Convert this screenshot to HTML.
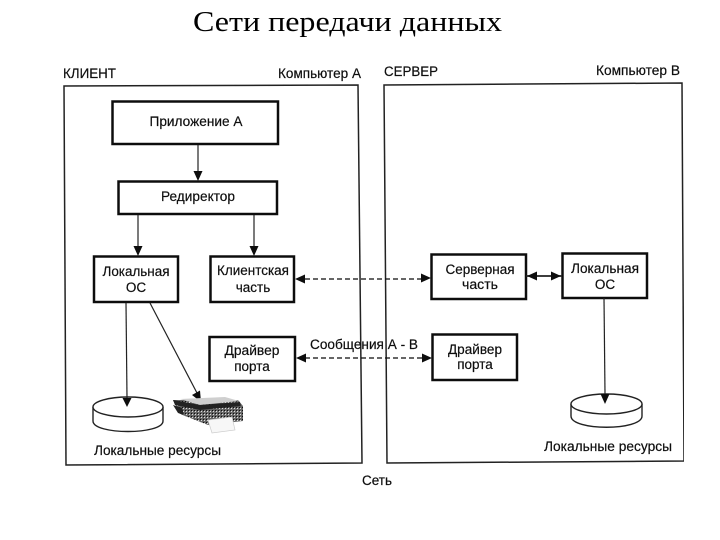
<!DOCTYPE html>
<html lang="ru">
<head>
<meta charset="utf-8">
<title>Сети передачи данных</title>
<style>
html,body{margin:0;padding:0;background:#fff}
svg{display:block}
text{font-family:"Liberation Sans",sans-serif;font-size:13.5px;fill:#111;stroke:#111;stroke-width:.2;text-anchor:middle}
.l{text-anchor:start}
.t{font-family:"Liberation Serif",serif;font-size:28px;fill:#000;stroke:none;text-anchor:start}
.box{fill:#fff;stroke:#111;stroke-width:2.5}
.frame{fill:none;stroke:#222;stroke-width:1.5}
.ln{fill:none;stroke:#222;stroke-width:1.2}
.d{fill:none;stroke:#111;stroke-width:1.3;stroke-dasharray:5 3}
.ah{fill:#111;stroke:none}
.disk{fill:#fff;stroke:#222;stroke-width:1.4}
</style>
</head>
<body>
<svg width="720" height="540" viewBox="0 0 720 540" xmlns="http://www.w3.org/2000/svg">
<defs>
<pattern id="dots" width="3" height="3" patternUnits="userSpaceOnUse">
<rect width="3" height="3" fill="#666"/>
<rect width="1" height="1" fill="#ddd"/>
<rect x="2" y="2" width="1" height="1" fill="#111"/>
</pattern>
<filter id="soft" x="0" y="0" width="100%" height="100%"><feGaussianBlur stdDeviation="0.35"/></filter>
</defs>

<text class="t" x="193" y="31" textLength="309" lengthAdjust="spacingAndGlyphs">Сети передачи данных</text>

<g filter="url(#soft)">
<polygon class="frame" points="64,86 358,85 362,463 66,465"/>
<polygon class="frame" points="384,85 682,83 684,461 387,463"/>

<text class="l" x="63" y="78" textLength="53" lengthAdjust="spacingAndGlyphs">КЛИЕНТ</text>
<text class="l" x="278" y="78" textLength="83" lengthAdjust="spacingAndGlyphs">Компьютер А</text>
<text class="l" x="384" y="76" textLength="54" lengthAdjust="spacingAndGlyphs">СЕРВЕР</text>
<text class="l" x="596" y="75" textLength="84" lengthAdjust="spacingAndGlyphs">Компьютер В</text>

<rect class="box" x="112.500" y="101.500" width="165.500" height="42.500"/>
<rect class="box" x="118.500" y="181.500" width="158.500" height="32.500"/>
<rect class="box" x="94" y="256.500" width="84" height="45.500"/>
<rect class="box" x="210.500" y="256.500" width="83.500" height="45.500"/>
<rect class="box" x="209.500" y="337" width="85.500" height="44"/>
<rect class="box" x="431.500" y="254.500" width="94.500" height="44.500"/>
<rect class="box" x="562.500" y="253.500" width="84.500" height="44.500"/>
<rect class="box" x="432.500" y="334.500" width="84.500" height="45.500"/>

<text x="196" y="126" textLength="93" lengthAdjust="spacingAndGlyphs">Приложение А</text>
<text x="198" y="201" textLength="74" lengthAdjust="spacingAndGlyphs">Редиректор</text>
<text x="136" y="276" textLength="67" lengthAdjust="spacingAndGlyphs">Локальная</text>
<text x="136" y="292">ОС</text>
<text x="253" y="275" textLength="72" lengthAdjust="spacingAndGlyphs">Клиентская</text>
<text x="253" y="292">часть</text>
<text x="252" y="355" textLength="55" lengthAdjust="spacingAndGlyphs">Драйвер</text>
<text x="252" y="371">порта</text>
<text x="480" y="274" textLength="69" lengthAdjust="spacingAndGlyphs">Серверная</text>
<text x="480" y="289" textLength="36" lengthAdjust="spacingAndGlyphs">часть</text>
<text x="605" y="273" textLength="68" lengthAdjust="spacingAndGlyphs">Локальная</text>
<text x="605" y="289">ОС</text>
<text x="475" y="354" textLength="54" lengthAdjust="spacingAndGlyphs">Драйвер</text>
<text x="475" y="369">порта</text>

<text class="l" x="310" y="349" textLength="108" lengthAdjust="spacingAndGlyphs">Сообщения А - В</text>
<text class="l" x="94" y="455" textLength="127" lengthAdjust="spacingAndGlyphs">Локальные ресурсы</text>
<text class="l" x="544" y="451" textLength="128" lengthAdjust="spacingAndGlyphs">Локальные ресурсы</text>
<text class="l" x="362" y="485" textLength="30" lengthAdjust="spacingAndGlyphs">Сеть</text>

<!-- solid connectors -->
<line class="ln" x1="198" y1="145" x2="198" y2="172"/>
<polygon class="ah" points="193.500,171 202.500,171 198,181"/>
<line class="ln" x1="138" y1="215" x2="138" y2="246"/>
<polygon class="ah" points="133.500,246 142.500,246 138,256"/>
<line class="ln" x1="254" y1="215" x2="254" y2="246"/>
<polygon class="ah" points="249.500,246 258.500,246 254,256"/>
<line class="ln" x1="526" y1="276" x2="562" y2="276" style="stroke-width:1.8"/>
<polygon class="ah" points="527,276 537,271.500 537,280.500"/>
<polygon class="ah" points="561,276 551,271.500 551,280.500"/>

<!-- dashed connectors -->
<line class="d" x1="305" y1="279" x2="422" y2="279"/>
<polygon class="ah" points="295,279 305,274.500 305,283.500"/>
<polygon class="ah" points="431,278 421,273.500 421,282.500"/>
<line class="d" x1="305" y1="358" x2="423" y2="358"/>
<polygon class="ah" points="296,358 306,353.500 306,362.500"/>
<polygon class="ah" points="432,358 422,353.500 422,362.500"/>

<!-- disk A -->
<path class="disk" d="M93,407 V421 C93,435 163,435 163,421 V407"/>
<ellipse class="disk" cx="128" cy="407" rx="35" ry="10"/>
<line class="ln" x1="126" y1="303" x2="127" y2="398"/>
<polygon class="ah" points="122.500,398 131.500,398 127,407"/>

<!-- disk B -->
<path class="disk" d="M571,404 V416 C571,431 642,431 642,416 V404"/>
<ellipse class="disk" cx="606.500" cy="404" rx="35.500" ry="10"/>
<line class="ln" x1="604" y1="298" x2="605" y2="394"/>
<polygon class="ah" points="600.500,394 609.500,394 605,404"/>

<!-- printer -->
<line class="ln" x1="150" y1="303" x2="197" y2="393"/>
<polygon class="ah" points="192,395 200,390.500 201,402"/>
<polygon points="173,400 238,400 243,406 243,421 208,425 180,414" fill="url(#dots)"/>
<polygon points="180,399 225,397 239,401 200,405" fill="#cfcfcf"/>
<polygon points="173,400 200,405 240,402 241,406 200,410 175,405" fill="#222"/>
<polygon points="173,405 182,408 184,415 178,413" fill="#222"/>
<polygon points="208,420 232,417 235,430 212,433" fill="#f7f7f7" stroke="#ccc" stroke-width=".7"/>
</g>
</svg>
</body>
</html>
